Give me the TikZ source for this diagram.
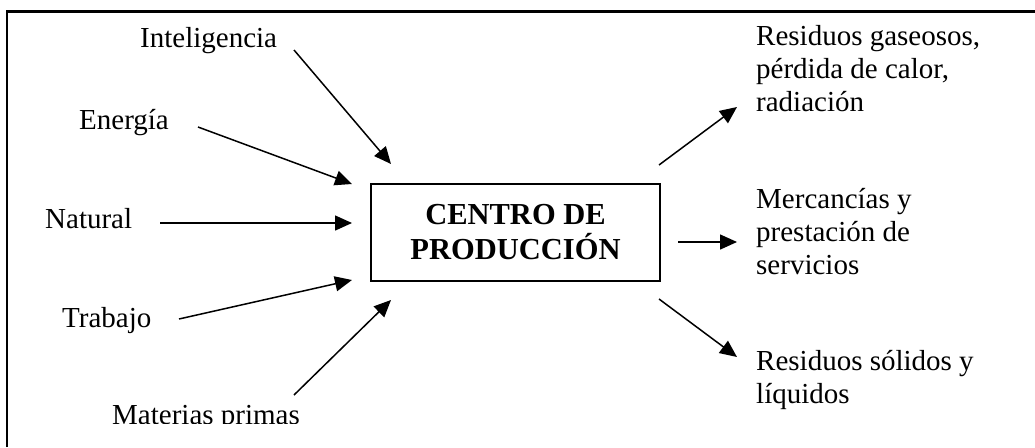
\documentclass[tikz,border=0pt]{standalone}
\usepackage{fontspec}
\setmainfont{Liberation Serif}
\usetikzlibrary{arrows.meta}
\tikzset{
  lbl/.style={anchor=base west, inner sep=0pt, font=\fontsize{29}{32.7}\selectfont, align=left},
  arr/.style={line width=1.5pt, -{Triangle[length=17pt,width=15pt]}},
  centre/.style={draw, line width=2pt, minimum width=289pt, minimum height=97pt, inner sep=0pt,
    font=\fontsize{30.5}{35}\selectfont\bfseries, align=center}
}
\begin{document}
\begin{tikzpicture}[x=1pt,y=-1pt]
\useasboundingbox (0,0) rectangle (1035,447);
% frame
\draw[line width=2.5pt] (7,447) -- (7,11.5) -- (1035,11.5);
% centre box
\node[centre] (box) at (515.5,232.5) {CENTRO DE\\PRODUCCIÓN};
% inputs
\node[lbl] (intel) at (140,47) {Inteligencia};
\node[lbl] (ener) at (79,129) {Energía};
\node[lbl] (nat) at (45,228) {Natural};
\node[lbl] (trab) at (62,327) {Trabajo};
\begin{scope}
\clip (0,0) rectangle (1035,423);
\node[lbl] (mat) at (112,424) {Materias primas};
\end{scope}
% outputs (anchor = baseline of the last line)
\node[lbl] (gas) at (756,111) {Residuos gaseosos,\\pérdida de calor,\\radiación};
\node[lbl] (merc) at (756,274) {Mercancías y\\prestación de\\servicios};
\node[lbl] (sol) at (756,403) {Residuos sólidos y\\líquidos};
% arrow end points
\coordinate (a1s) at (294,50);  \coordinate (a1e) at (391,164);
\coordinate (a2s) at (198,127); \coordinate (a2e) at (352,184);
\coordinate (a3s) at (160,223); \coordinate (a3e) at (352,223);
\coordinate (a4s) at (179,319); \coordinate (a4e) at (352,280);
\coordinate (a5s) at (294,395); \coordinate (a5e) at (391,300);
\coordinate (b1s) at (659,165); \coordinate (b1e) at (737,107);
\coordinate (b2s) at (678,242); \coordinate (b2e) at (737,242);
\coordinate (b3s) at (659,299); \coordinate (b3e) at (737,357);
\draw[arr] (a1s) -- (a1e);
\draw[arr] (a2s) -- (a2e);
\draw[arr] (a3s) -- (a3e);
\draw[arr] (a4s) -- (a4e);
\draw[arr] (a5s) -- (a5e);
\draw[arr] (b1s) -- (b1e);
\draw[arr] (b2s) -- (b2e);
\draw[arr] (b3s) -- (b3e);
\end{tikzpicture}
\end{document}
